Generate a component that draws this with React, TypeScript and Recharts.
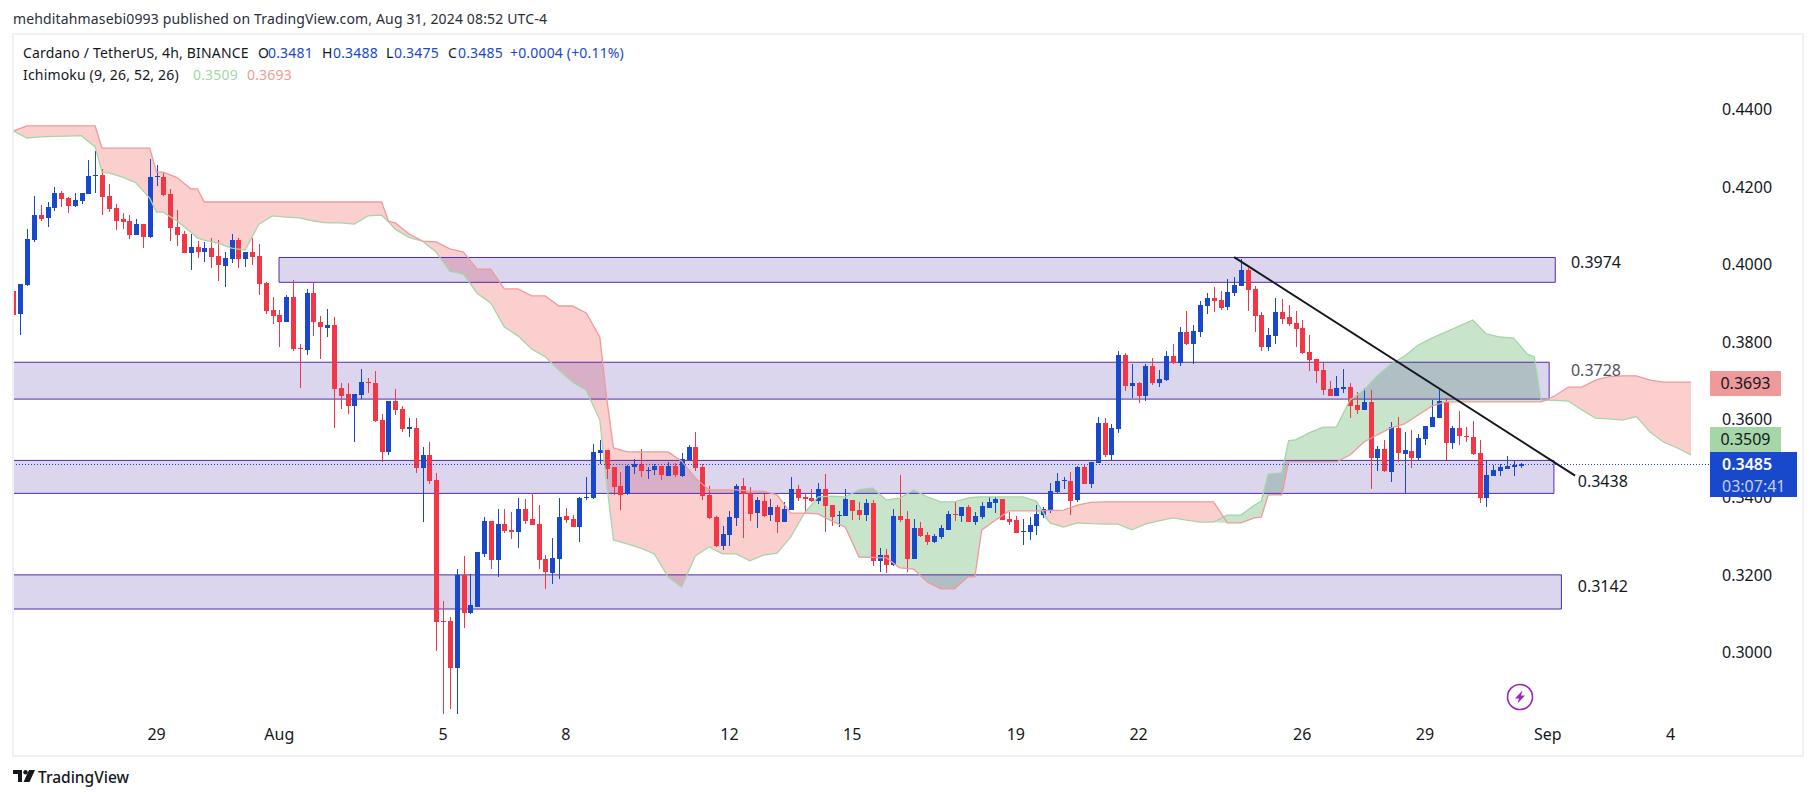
import { Area, Bar, ComposedChart, Line, ReferenceArea, ReferenceDot, ReferenceLine, XAxis, YAxis } from 'recharts';

const opens = [
  .3932,.3873,.3947,.4063,.4128,.4120,.4146,.4184,.4171,.4151,
  .4164,.4182,.4229,.4231,.4177,.4146,.4117,.4112,.4076,.4104,
  .4071,.4226,.4226,.4182,.4097,.4079,.4030,.4045,.4032,.4043,
  .4022,.3996,.4014,.4063,.4014,.4032,.4022,.3952,.3883,.3870,
  .3852,.3916,.3785,.3780,.3927,.3852,.3836,.3844,.3682,.3666,
  .3635,.3664,.3697,.3695,.3599,.3517,.3648,.3628,.3576,.3579,
  .3476,.3509,.3445,.3081,.3081,.2960,.3199,.3102,.3117,.3254,
  .3339,.3239,.3331,.3316,.3311,.3370,.3344,.3331,.3241,.3205,
  .3241,.3352,.3344,.3324,.3399,.3398,.3514,.3522,.3478,.3429,
  .3409,.3478,.3486,.3468,.3470,.3481,.3455,.3481,.3455,.3496,
  .3530,.3478,.3406,.3349,.3275,.3303,.3347,.3429,.3411,.3360,
  .3391,.3354,.3375,.3336,.3367,.3421,.3401,.3398,.3391,.3421,
  .3380,.3352,.3352,.3393,.3367,.3354,.3385,.3236,.3251,.3226,
  .3352,.3344,.3241,.3321,.3303,.3285,.3297,.3316,.3357,.3352,
  .3375,.3336,.3349,.3373,.3385,.3396,.3344,.3342,.3311,.3311,
  .3326,.3354,.3367,.3414,.3443,.3442,.3393,.3478,.3434,.3488,
  .3592,.3509,.3576,.3767,.3687,.3695,.3661,.3738,.3695,.3702,
  .3764,.3746,.3826,.3795,.3826,.3893,.3914,.3908,.3890,.3927,
  .3945,.3986,.3937,.3870,.3787,.3816,.3878,.3865,.3849,.3836,
  .3774,.3756,.3728,.3679,.3661,.3679,.3684,.3638,.3625,.3646,
  .3501,.3525,.3465,.3579,.3512,.3520,.3501,.3550,.3581,.3604,
  .3646,.3540,.3579,.3558,.3556,.3514,.3398,.3455,.3468,.3473,
  .3478,.3481,
];

const closes = [
  .3870,.3950,.4066,.4128,.4117,.4148,.4184,.4169,.4151,.4166,
  .4184,.4228,.4231,.4174,.4143,.4112,.4110,.4076,.4104,.4071,
  .4226,.4228,.4179,.4094,.4076,.4030,.4045,.4032,.4043,.4019,
  .3999,.4017,.4063,.4014,.4032,.4019,.3950,.3880,.3867,.3852,
  .3916,.3782,.3783,.3927,.3852,.3839,.3844,.3679,.3661,.3635,
  .3666,.3697,.3695,.3597,.3517,.3648,.3625,.3576,.3581,.3476,
  .3509,.3442,.3079,.3079,.2960,.3199,.3102,.3123,.3259,.3339,
  .3239,.3331,.3313,.3311,.3370,.3339,.3329,.3238,.3208,.3244,
  .3349,.3342,.3324,.3398,.3401,.3517,.3522,.3473,.3427,.3406,
  .3481,.3486,.3468,.3470,.3481,.3458,.3481,.3458,.3499,.3530,
  .3476,.3403,.3347,.3275,.3305,.3349,.3429,.3409,.3357,.3393,
  .3352,.3375,.3336,.3370,.3421,.3398,.3396,.3391,.3421,.3378,
  .3349,.3354,.3396,.3365,.3354,.3385,.3236,.3251,.3226,.3352,
  .3342,.3241,.3321,.3300,.3285,.3300,.3321,.3357,.3355,.3375,
  .3336,.3352,.3378,.3388,.3396,.3342,.3336,.3308,.3313,.3329,
  .3357,.3370,.3416,.3442,.3445,.3391,.3478,.3434,.3491,.3592,
  .3509,.3579,.3767,.3687,.3695,.3661,.3738,.3695,.3705,.3764,
  .3746,.3826,.3795,.3829,.3896,.3914,.3906,.3888,.3929,.3947,
  .3986,.3934,.3867,.3787,.3818,.3878,.3860,.3847,.3834,.3772,
  .3754,.3726,.3677,.3661,.3682,.3684,.3635,.3625,.3646,.3501,
  .3525,.3468,.3581,.3514,.3522,.3501,.3553,.3584,.3607,.3648,
  .3540,.3579,.3558,.3556,.3512,.3398,.3458,.3470,.3478,.3481,
  .3483,.3485,
];

const highs = [
  .3962,.3950,.4091,.4177,.4153,.4161,.4200,.4189,.4175,.4184,
  .4184,.4269,.4293,.4246,.4207,.4155,.4133,.4128,.4117,.4104,
  .4272,.4256,.4236,.4195,.4140,.4086,.4079,.4061,.4058,.4068,
  .4063,.4032,.4079,.4068,.4032,.4068,.4053,.3955,.3916,.3883,
  .3921,.3960,.3795,.3937,.3952,.3867,.3885,.3865,.3695,.3695,
  .3666,.3731,.3708,.3726,.3615,.3648,.3679,.3635,.3604,.3604,
  .3530,.3543,.3463,.3133,.3092,.3215,.3249,.3202,.3259,.3349,
  .3339,.3370,.3370,.3362,.3398,.3396,.3410,.3380,.3251,.3295,
  .3398,.3372,.3354,.3401,.3452,.3537,.3548,.3522,.3478,.3465,
  .3483,.3499,.3525,.3478,.3486,.3481,.3491,.3488,.3514,.3535,
  .3568,.3486,.3429,.3352,.3326,.3365,.3434,.3450,.3427,.3401,
  .3409,.3396,.3380,.3388,.3452,.3432,.3411,.3421,.3437,.3460,
  .3380,.3365,.3421,.3393,.3388,.3396,.3393,.3269,.3267,.3370,
  .3458,.3365,.3344,.3336,.3311,.3305,.3329,.3365,.3391,.3375,
  .3380,.3362,.3388,.3401,.3401,.3396,.3362,.3352,.3344,.3349,
  .3380,.3375,.3437,.3463,.3452,.3465,.3481,.3483,.3491,.3607,
  .3604,.3589,.3777,.3772,.3744,.3697,.3744,.3759,.3728,.3777,
  .3795,.3839,.3880,.3844,.3906,.3927,.3942,.3932,.3963,.3968,
  .4014,.3991,.3945,.3878,.3836,.3914,.3911,.3896,.3880,.3857,
  .3818,.3756,.3746,.3700,.3713,.3731,.3695,.3671,.3682,.3677,
  .3532,.3548,.3594,.3607,.3568,.3574,.3563,.3584,.3651,.3677,
  .3656,.3584,.3622,.3581,.3597,.3548,.3494,.3483,.3486,.3507,
  .3494,.3488,
];

const lows = [
  .3836,.3818,.3945,.4059,.4112,.4097,.4138,.4148,.4133,.4148,
  .4156,.4182,.4184,.4128,.4135,.4089,.4091,.4066,.4076,.4043,
  .4068,.4202,.4177,.4061,.4048,.4030,.3986,.4017,.4006,.3991,
  .3957,.3942,.4004,.3991,.3994,.3999,.3921,.3872,.3847,.3787,
  .3852,.3777,.3682,.3767,.3816,.3756,.3813,.3579,.3628,.3615,
  .3543,.3653,.3669,.3594,.3491,.3509,.3612,.3568,.3555,.3463,
  .3336,.3434,.3004,.2842,.2855,.2842,.3063,.3099,.3117,.3246,
  .3215,.3195,.3308,.3293,.3269,.3331,.3329,.3215,.3164,.3177,
  .3190,.3334,.3324,.3285,.3393,.3396,.3486,.3447,.3406,.3367,
  .3406,.3460,.3452,.3447,.3458,.3445,.3455,.3452,.3452,.3496,
  .3468,.3393,.3344,.3272,.3264,.3275,.3326,.3295,.3339,.3321,
  .3349,.3339,.3308,.3336,.3367,.3390,.3360,.3388,.3383,.3311,
  .3326,.3324,.3352,.3342,.3342,.3339,.3223,.3208,.3205,.3223,
  .3336,.3208,.3241,.3297,.3277,.3282,.3293,.3316,.3339,.3336,
  .3336,.3329,.3344,.3373,.3360,.3342,.3329,.3308,.3277,.3290,
  .3303,.3347,.3360,.3411,.3421,.3354,.3388,.3434,.3424,.3488,
  .3504,.3496,.3566,.3674,.3656,.3643,.3648,.3689,.3684,.3700,
  .3744,.3738,.3793,.3744,.3813,.3872,.3878,.3883,.3883,.3919,
  .3945,.3880,.3826,.3777,.3777,.3795,.3847,.3842,.3787,.3769,
  .3726,.3695,.3664,.3661,.3661,.3669,.3604,.3615,.3625,.3421,
  .3468,.3465,.3440,.3491,.3410,.3476,.3496,.3535,.3581,.3604,
  .3496,.3525,.3535,.3543,.3509,.3385,.3375,.3455,.3455,.3473,
  .3455,.3475,
];

// bar numbers the two cloud spans were read at
const cloudBars = [
  0,2,4,6,8,10,12,13,14,16,18,20,21,22,24,26,27,28,30,32,34,36,38,40,42,44,46,48,50,52,54,55,56,58,60,
  62,64,66,68,70,72,74,76,78,80,82,84,86,87,88,90,92,94,96,98,100,102,104,106,108,110,112,114,116,118,120,
  122,124,126,128,130,132,134,136,138,140,141,142,144,146,148,150,152,154,156,158,160,162,164,166,168,170,172,174,176,178,180,
  182,183,184,186,187,188,190,192,194,196,198,200,202,204,206,208,210,212,214,216,218,220,222,223,224,226,228,230,232,234,236,238,240,242,244,246,
];

const spanA = [
  .4344,.4326,.4329,.4330,.4331,.4332,.4303,.4238,.4236,.4225,.4210,.4171,.4135,.4135,.4112,.4084,.4068,.4063,.4055,.4042,.4037,.4104,.4125,.4122,.4120,.4112,.4107,.4107,.4104,.4125,.4127,.4110,.4091,.4070,.4060,
  .4032,.3983,.3975,.3926,.3901,.3839,.3816,.3782,.3762,.3728,.3697,.3676,.3599,.3437,.3290,.3280,.3269,.3254,.3195,.3169,.3249,.3272,.3254,.3254,.3236,.3251,.3256,.3298,.3359,.3401,.3403,
  .3401,.3419,.3424,.3393,.3398,.3419,.3401,.3388,.3388,.3398,.3400,.3401,.3401,.3401,.3401,.3390,.3334,.3323,.3334,.3332,.3331,.3331,.3316,.3331,.3339,.3347,.3341,.3336,.3336,.3354,.3354,
  .3380,.3390,.3460,.3463,.3546,.3548,.3566,.3581,.3581,.3651,.3676,.3713,.3743,.3764,.3792,.3810,.3826,.3841,.3857,.3821,.3813,.3810,.3769,.3762,.3651,.3650,.3648,.3625,.3604,.3602,.3599,.3608,.3568,.3542,.3527,.3509,
];

const spanB = [
  .4344,.4357,.4357,.4357,.4357,.4357,.4357,.4300,.4300,.4300,.4300,.4300,.4238,.4238,.4224,.4195,.4195,.4161,.4161,.4161,.4161,.4161,.4161,.4161,.4161,.4161,.4161,.4161,.4161,.4161,.4161,.4112,.4107,.4079,.4060,
  .4058,.4040,.4032,.3988,.3988,.3937,.3937,.3919,.3919,.3893,.3893,.3875,.3813,.3656,.3527,.3517,.3517,.3517,.3517,.3493,.3450,.3419,.3419,.3419,.3416,.3416,.3406,.3359,.3359,.3357,.3339,
  .3323,.3246,.3245,.3244,.3218,.3215,.3182,.3164,.3164,.3195,.3195,.3316,.3341,.3365,.3365,.3365,.3366,.3367,.3380,.3387,.3388,.3388,.3388,.3388,.3388,.3388,.3388,.3388,.3388,.3334,.3334,
  .3347,.3349,.3406,.3406,.3491,.3491,.3491,.3491,.3491,.3509,.3542,.3561,.3579,.3589,.3612,.3635,.3646,.3646,.3646,.3646,.3646,.3646,.3646,.3646,.3646,.3661,.3684,.3684,.3702,.3711,.3713,.3713,.3702,.3697,.3697,.3697,
];

const priceTicks = [0.3, 0.32, 0.34, 0.36, 0.38, 0.4, 0.42, 0.44];
const timeTicks = [21, 39, 63, 81, 105, 123, 147, 165, 189, 207, 225, 243];
const timeLabels = ['29', 'Aug', '5', '8', '12', '15', '19', '22', '26', '29', 'Sep', '4'];

const lastPrice = 0.3485;
const lastSpanA = 0.3509;
const lastSpanB = 0.3693;
const countdown = '03:07:41';

const BLUE = '#1848CC';
const RED = '#F23645';
const INK = '#131722';
const FONT = '"Noto Sans", sans-serif';

const candles = opens.map((open, i) => ({ index: i, open, close: closes[i], high: highs[i], low: lows[i] }));
const cloud = cloudBars.map((index, i) => ({ index, spanA: spanA[i], spanB: spanB[i] }));

// wick and body of one candle, placed from the y and height the Bar gives for low..high
const Candle = (props: any) => {
  const { x, y, width, height, payload } = props;
  const perUnit = height / (payload.high - payload.low);
  const yOf = (v: number) => y + (payload.high - v) * perUnit;
  const top = yOf(Math.max(payload.open, payload.close));
  const bottom = yOf(Math.min(payload.open, payload.close));
  const color = payload.close >= payload.open ? BLUE : RED;
  const cx = Math.round(x + width / 2);
  return (
    <g shapeRendering="crispEdges">
      <rect x={cx - 0.5} y={y} width={1} height={height} fill={color} />
      <rect x={cx - 2.5} y={top} width={5} height={Math.max(bottom - top, 1)} fill={color} />
    </g>
  );
};

const zoneStyle = { fill: '#512DA8', fillOpacity: 0.2, stroke: '#512DA8', strokeWidth: 1, ifOverflow: 'visible' as const };

const levelLabel = (value: string, color = INK) => ({
  value,
  position: 'right' as const,
  offset: 0,
  style: { fontFamily: FONT, fontSize: 16, fill: color },
});

const legendText = (left: number, top: number, color: string, text: string) => (
  <div style={{ position: 'absolute', left, top, fontSize: 14, lineHeight: '20px', letterSpacing: 0.17, whiteSpace: 'pre', color }}>{text}</div>
);

const App = () => {
  return (
    <div style={{ position: 'absolute', left: 0, top: 0, width: 1814, height: 798, background: '#fff', overflow: 'hidden', fontFamily: FONT, color: INK }}>
      <div style={{ position: 'absolute', left: 13, top: 9, fontSize: 14, lineHeight: '20px', letterSpacing: 0.15, color: '#2a2e39' }}>
        mehditahmasebi0993 published on TradingView.com, Aug 31, 2024 08:52 UTC-4
      </div>

      <div style={{ position: 'absolute', left: 14, top: 35 }}>
        <ComposedChart width={1787} height={719} data={candles} margin={{ top: 0, right: 0, bottom: 0, left: 0 }}>
          <XAxis
            dataKey="index"
            type="number"
            domain={[0.1, 248.64]}
            allowDataOverflow
            ticks={timeTicks}
            tickFormatter={(v) => timeLabels[timeTicks.indexOf(v)]}
            interval={0}
            height={32}
            axisLine={false}
            tickLine={false}
            tickMargin={1}
            tick={{ fontFamily: FONT, fontSize: 16, fill: INK }}
          />
          <YAxis
            orientation="right"
            type="number"
            domain={[0.28208, 0.45914]}
            allowDataOverflow
            ticks={priceTicks}
            tickFormatter={(v) => v.toFixed(4)}
            width={92}
            axisLine={false}
            tickLine={false}
            tickMargin={7}
            tick={{ fontFamily: FONT, fontSize: 16, fill: INK }}
          />

          <Area data={cloud} dataKey={(d: any) => [Math.min(d.spanA, d.spanB), d.spanB]} type="linear" fill="#FCCFCF" fillOpacity={1} stroke="none" dot={false} activeDot={false} isAnimationActive={false} />
          <Area data={cloud} dataKey={(d: any) => [Math.min(d.spanA, d.spanB), d.spanA]} type="linear" fill="#C8E4CB" fillOpacity={1} stroke="none" dot={false} activeDot={false} isAnimationActive={false} />
          <Line data={cloud} dataKey="spanA" type="linear" stroke="#A5D6A7" strokeWidth={1.3} dot={false} activeDot={false} isAnimationActive={false} />
          <Line data={cloud} dataKey="spanB" type="linear" stroke="#EF9A9A" strokeWidth={1.3} dot={false} activeDot={false} isAnimationActive={false} />

          <ReferenceArea x1={38.96} x2={226.1} y1={0.3954} y2={0.4018} {...zoneStyle} />
          <ReferenceArea x1={-0.1} x2={225.2} y1={0.3653} y2={0.3748} {...zoneStyle} />
          <ReferenceArea x1={-0.1} x2={225.9} y1={0.341} y2={0.3495} {...zoneStyle} />
          <ReferenceArea x1={-0.1} x2={227} y1={0.3112} y2={0.32} {...zoneStyle} />

          <ReferenceLine y={lastPrice} stroke={BLUE} strokeWidth={1} strokeDasharray="1 2" shapeRendering="crispEdges" />

          <Bar dataKey={(d: any) => [d.low, d.high]} barSize={5} shape={<Candle />} isAnimationActive={false} />

          <ReferenceLine
            segment={[{ x: 179, y: 0.4019 }, { x: 229, y: 0.3456 }]}
            stroke={INK}
            strokeWidth={2}
            ifOverflow="visible"
          />

          <ReferenceDot x={228.4} y={0.4005} r={0} ifOverflow="visible" label={levelLabel('0.3974')} />
          <ReferenceDot x={228.4} y={0.3728} r={0} ifOverflow="visible" label={levelLabel('0.3728', '#50535e')} />
          <ReferenceDot x={229.4} y={0.3442} r={0} ifOverflow="visible" label={levelLabel('0.3438')} />
          <ReferenceDot x={229.4} y={0.3171} r={0} ifOverflow="visible" label={levelLabel('0.3142')} />
        </ComposedChart>
      </div>

      {/* pane frame */}
      <div style={{ position: 'absolute', left: 12, top: 33, width: 1788, height: 720, border: '2px solid #F0F1F7', pointerEvents: 'none' }} />

      {/* header legend */}
      {legendText(23, 43, INK, 'Cardano / TetherUS, 4h, BINANCE')}
      {legendText(258, 43, INK, 'O')}
      {legendText(268, 43, BLUE, '0.3481')}
      {legendText(322, 43, INK, 'H')}
      {legendText(333, 43, BLUE, '0.3488')}
      {legendText(386, 43, INK, 'L')}
      {legendText(394, 43, BLUE, '0.3475')}
      {legendText(448, 43, INK, 'C')}
      {legendText(458, 43, BLUE, '0.3485')}
      {legendText(510, 43, BLUE, '+0.0004 (+0.11%)')}
      {legendText(23, 65, INK, 'Ichimoku (9, 26, 52, 26)')}
      {legendText(193, 65, '#A5D6A7', lastSpanA.toFixed(4))}
      {legendText(247, 65, '#EF9A9A', lastSpanB.toFixed(4))}

      {/* price badges */}
      <div style={{ position: 'absolute', left: 1710, top: 371, width: 71, height: 25, background: '#EF9A9A', fontSize: 16, lineHeight: '25px', textAlign: 'center' }}>{lastSpanB.toFixed(4)}</div>
      <div style={{ position: 'absolute', left: 1710, top: 427, width: 71, height: 25, background: '#A5D6A7', fontSize: 16, lineHeight: '25px', textAlign: 'center' }}>{lastSpanA.toFixed(4)}</div>
      <div style={{ position: 'absolute', left: 1710, top: 452, width: 87, height: 45, background: BLUE, color: '#fff', fontSize: 16, lineHeight: '22px', paddingTop: 1, boxSizing: 'border-box', textAlign: 'left', paddingLeft: 12 }}>
        <div style={{ fontWeight: 600 }}>{lastPrice.toFixed(4)}</div>
        <div style={{ color: '#C4D0F0' }}>{countdown}</div>
      </div>

      {/* dividend style bolt marker */}
      <svg style={{ position: 'absolute', left: 1506, top: 683 }} width={28} height={28} viewBox="0 0 28 28">
        <circle cx={14} cy={14} r={12.5} fill="none" stroke="#9C27B0" strokeWidth={1.6} />
        <path d="M16.5 7.5 L9 15.5 H13 L11.5 20.5 L19 12.5 H15 Z" fill="#9C27B0" />
      </svg>

      {/* TradingView mark */}
      <svg style={{ position: 'absolute', left: 13, top: 770 }} width={24} height={14} viewBox="0 0 24 14">
        <path d="M0 0 H9 V12 H5 V4 H0 Z" fill={INK} />
        <circle cx={12.5} cy={2.2} r={2.2} fill={INK} />
        <path d="M16 0 H22 L16.5 12 H10.5 Z" fill={INK} />
      </svg>
      <div style={{ position: 'absolute', left: 38, top: 767, fontSize: 15.5, fontWeight: 500, lineHeight: '20px' }}>TradingView</div>
    </div>
  );
};

export default App;
